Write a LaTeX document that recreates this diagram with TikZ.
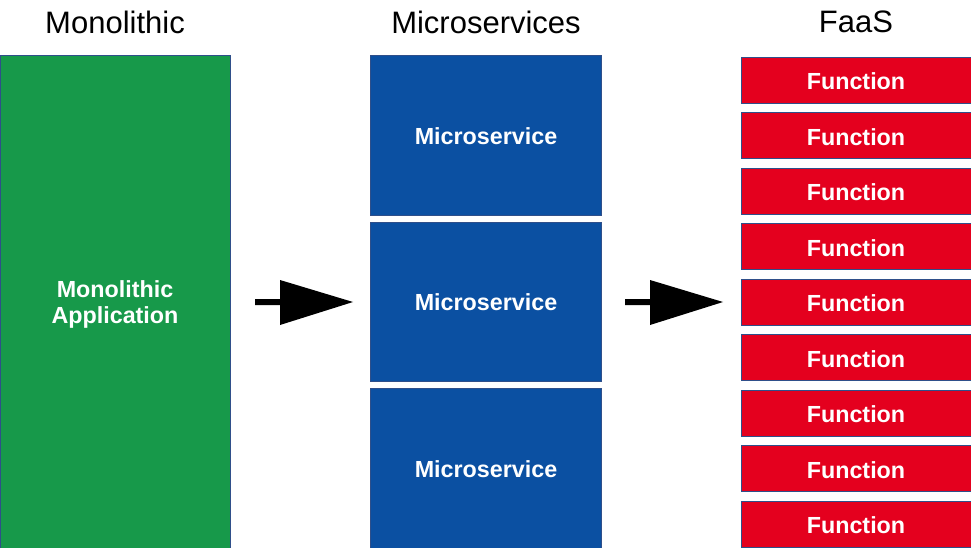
\documentclass[tikz,border=0pt]{standalone}
\usepackage{fontspec}
\setmainfont{Liberation Sans}
\definecolor{mgreen}{HTML}{17994A}
\definecolor{mblue}{HTML}{0B50A2}
\definecolor{mred}{HTML}{E4001E}
\definecolor{edge}{HTML}{2F4F8A}
\begin{document}
\begin{tikzpicture}[x=1pt,y=-1pt,
  title/.style={font=\fontsize{31}{36}\selectfont, anchor=center},
  boxlbl/.style={font=\fontsize{23.3}{26}\selectfont\bfseries, text=white, align=center},
  mono/.style={fill=mgreen, draw=edge, line width=0.8pt},
  micro/.style={fill=mblue, draw=edge, line width=0.6pt},
  func/.style={fill=mred, draw=edge, line width=0.8pt},
  bigarrow/.style={fill=black}]
\useasboundingbox (0,0) rectangle (971,548);
\node[title] (t1) at (115,22) {Monolithic};
\node[title] (t2) at (486,22) {Microservices};
\node[title] (t3) at (856,22) {FaaS};
% monolith
\draw[mono] (0.5,55) rectangle (230,548);
\node[boxlbl] (mono) at (115,304) {Monolithic\\Application};
% microservices
\foreach \i/\a/\b in {1/55/215,2/222/381,3/388/548}{
  \draw[micro] (370,\a) rectangle (601,\b);
  \node[boxlbl] (ms\i) at (486,{(\a+\b)/2+1}) {Microservice};
}
% functions
\foreach \i in {0,...,8}{
  \pgfmathsetmacro{\ya}{57+55.5*\i}
  \draw[func] (741,\ya) rectangle (971,\ya+46);
  \node[boxlbl] (f\i) at (856,\ya+24.5) {Function};
}
% arrows
\fill[bigarrow] (255,299) -- (280,299) -- (280,280) -- (353,302) -- (280,325) -- (280,305) -- (255,305) -- cycle;
\fill[bigarrow] (625,299) -- (650,299) -- (650,280) -- (723,302) -- (650,325) -- (650,305) -- (625,305) -- cycle;
\end{tikzpicture}
\end{document}
